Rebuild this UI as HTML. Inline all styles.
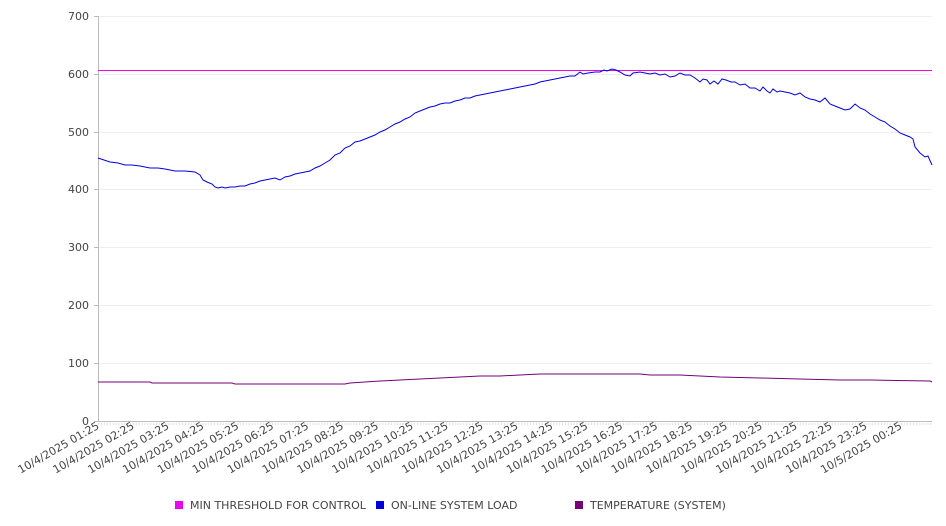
<!DOCTYPE html>
<html><head><meta charset="utf-8"><style>
html,body{margin:0;padding:0;background:#fff;}
svg{display:block;font-family:"DejaVu Sans","Liberation Sans",sans-serif;}
</style></head><body>
<svg width="946" height="526" viewBox="0 0 946 526" xmlns="http://www.w3.org/2000/svg">
<g stroke="#eeeeee" stroke-width="1">
<line x1="98" y1="16.5" x2="932" y2="16.5"/>
<line x1="98" y1="74.5" x2="932" y2="74.5"/>
<line x1="98" y1="132.5" x2="932" y2="132.5"/>
<line x1="98" y1="189.5" x2="932" y2="189.5"/>
<line x1="98" y1="247.5" x2="932" y2="247.5"/>
<line x1="98" y1="305.5" x2="932" y2="305.5"/>
<line x1="98" y1="363.5" x2="932" y2="363.5"/>
</g>
<g stroke="#bbbbbb" stroke-width="1">
<line x1="98.5" y1="16" x2="98.5" y2="421"/>
<line x1="98" y1="421.5" x2="932" y2="421.5"/>
<line x1="98" y1="424" x2="932" y2="424" stroke-dasharray="1 1.9"/>
<line x1="94" y1="16.5" x2="98" y2="16.5"/>
<line x1="94" y1="74.5" x2="98" y2="74.5"/>
<line x1="94" y1="132.5" x2="98" y2="132.5"/>
<line x1="94" y1="189.5" x2="98" y2="189.5"/>
<line x1="94" y1="247.5" x2="98" y2="247.5"/>
<line x1="94" y1="305.5" x2="98" y2="305.5"/>
<line x1="94" y1="363.5" x2="98" y2="363.5"/>
<line x1="94" y1="421.5" x2="98" y2="421.5"/>
</g>
<g font-size="11" fill="#444" text-anchor="end">
<text x="89" y="20">700</text><text x="89" y="78">600</text><text x="89" y="136">500</text>
<text x="89" y="193">400</text><text x="89" y="251">300</text><text x="89" y="309">200</text>
<text x="89" y="367">100</text><text x="89" y="425">0</text>
</g>
<line x1="98" y1="70.5" x2="932" y2="70.5" stroke="#ee00ee" stroke-width="1"/>
<polyline fill="none" stroke="#0000dd" stroke-width="1" points="98,158 104,160 110,162 118,163 125,165 132,165 140,166 145,167 150,168 158,168 165,169 170,170 175,171 185,171 195,172 200,175 203,180 207,182 212,184 215,187 218,188 222,187 225,188 230,187 235,187 240,186 245,186 250,184 255,183 260,181 265,180 270,179 275,178 280,180 285,177 290,176 295,174 300,173 305,172 310,171 315,168 320,166 325,163 330,160 335,155 340,153 345,148 350,146 355,142 360,141 365,139 370,137 375,135 380,132 385,130 390,127 395,124 400,122 405,119 410,117 415,113 420,111 425,109 430,107 435,106 440,104 445,103 450,103 455,101 460,100 465,98 470,98 475,96 480,95 485,94 490,93 495,92 500,91 505,90 510,89 515,88 520,87 525,86 530,85 535,84 540,82 545,81 550,80 555,79 560,78 565,77 570,76 575,76 580,72 583,74 588,73 595,72 600,72 604,70 607,71 612,69 616,70 620,72 625,75 630,76 633,73 640,72 645,73 650,74 655,73 660,75 665,74 670,77 675,76 680,73 685,75 690,75 695,78 700,82 703,79 707,80 710,84 714,81 718,84 722,79 726,80 731,82 735,82 740,85 745,84 750,88 755,88 760,91 763,87 767,91 770,93 773,89 777,92 780,91 785,92 790,93 795,95 800,93 805,97 810,99 815,100 820,102 825,98 830,104 835,106 840,108 845,110 850,109 855,104 860,108 865,110 870,114 875,117 880,120 885,122 890,126 895,129 900,133 905,135 910,137 913,139 915,147 920,153 925,157 928,156 932,165"/>
<polyline fill="none" stroke="#770077" stroke-width="1" points="98,382 150,382 152,383 232,383 235,384 345,384 350,383 365,382 380,381 400,380 420,379 440,378 460,377 480,376 500,376 520,375 540,374 560,374 580,374 600,374 640,374 650,375 680,375 700,376 720,377 760,378 800,379 840,380 870,380 930,381 932,382"/>
<g font-size="11" fill="#444" text-anchor="end">
<text transform="translate(100,428) rotate(-30)">10/4/2025 01:25</text>
<text transform="translate(134.9,428) rotate(-30)">10/4/2025 02:25</text>
<text transform="translate(169.8,428) rotate(-30)">10/4/2025 03:25</text>
<text transform="translate(204.7,428) rotate(-30)">10/4/2025 04:25</text>
<text transform="translate(239.6,428) rotate(-30)">10/4/2025 05:25</text>
<text transform="translate(274.5,428) rotate(-30)">10/4/2025 06:25</text>
<text transform="translate(309.4,428) rotate(-30)">10/4/2025 07:25</text>
<text transform="translate(344.3,428) rotate(-30)">10/4/2025 08:25</text>
<text transform="translate(379.2,428) rotate(-30)">10/4/2025 09:25</text>
<text transform="translate(414.1,428) rotate(-30)">10/4/2025 10:25</text>
<text transform="translate(449,428) rotate(-30)">10/4/2025 11:25</text>
<text transform="translate(483.9,428) rotate(-30)">10/4/2025 12:25</text>
<text transform="translate(518.8,428) rotate(-30)">10/4/2025 13:25</text>
<text transform="translate(553.7,428) rotate(-30)">10/4/2025 14:25</text>
<text transform="translate(588.6,428) rotate(-30)">10/4/2025 15:25</text>
<text transform="translate(623.5,428) rotate(-30)">10/4/2025 16:25</text>
<text transform="translate(658.4,428) rotate(-30)">10/4/2025 17:25</text>
<text transform="translate(693.3,428) rotate(-30)">10/4/2025 18:25</text>
<text transform="translate(728.2,428) rotate(-30)">10/4/2025 19:25</text>
<text transform="translate(763.1,428) rotate(-30)">10/4/2025 20:25</text>
<text transform="translate(798,428) rotate(-30)">10/4/2025 21:25</text>
<text transform="translate(832.9,428) rotate(-30)">10/4/2025 22:25</text>
<text transform="translate(867.8,428) rotate(-30)">10/4/2025 23:25</text>
<text transform="translate(902.7,428) rotate(-30)">10/5/2025 00:25</text>
</g>
<rect x="175" y="501" width="8" height="8" fill="#ee00ee"/>
<rect x="376" y="501" width="8" height="8" fill="#0000dd"/>
<rect x="575" y="501" width="8" height="8" fill="#770077"/>
<g font-size="11" fill="#444">
<text x="190" y="509">MIN THRESHOLD FOR CONTROL</text>
<text x="391" y="509">ON-LINE SYSTEM LOAD</text>
<text x="590" y="509">TEMPERATURE (SYSTEM)</text>
</g>
</svg>
</body></html>
